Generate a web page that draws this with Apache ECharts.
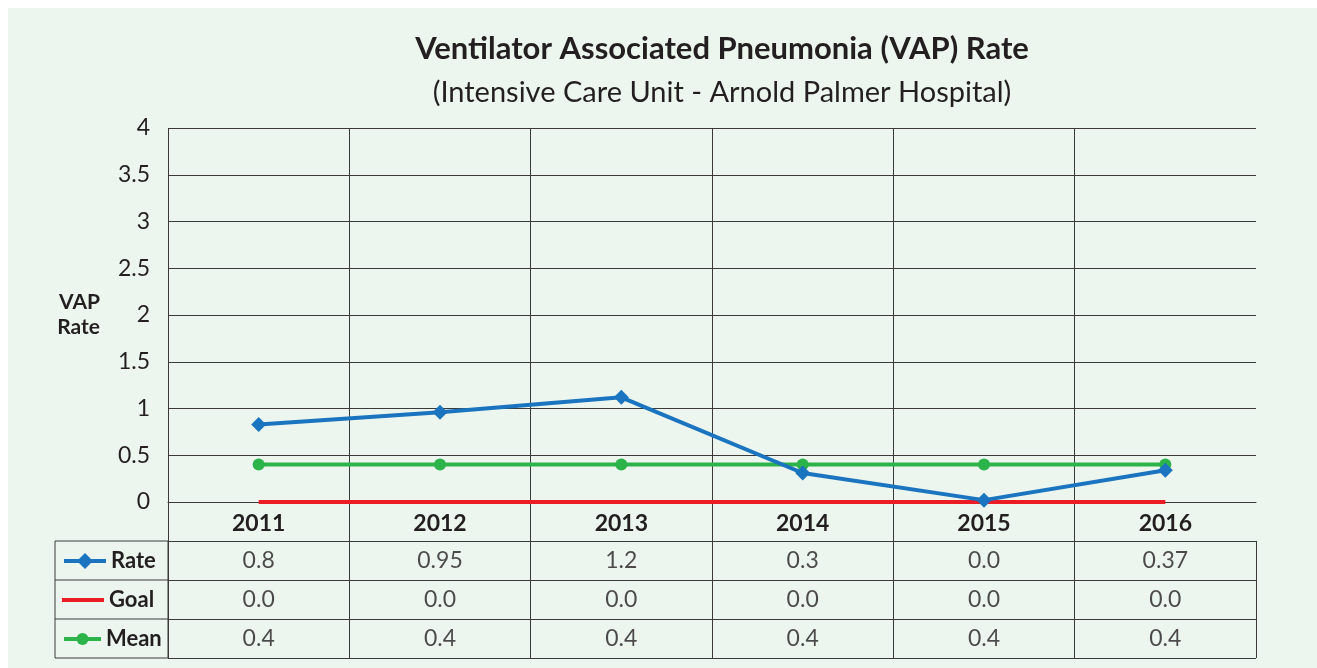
<!DOCTYPE html>
<html lang="en">

<head>
    <meta charset="UTF-8">
    <title>VAP Rate</title>
    <script src="https://cdnjs.cloudflare.com/ajax/libs/echarts/6.0.0/echarts.min.js"></script>
    <style>
        html, body { margin: 0; padding: 0; overflow: hidden; background: #fff; }
        #main { position: absolute; left: 8px; top: 8px; width: 1309px; height: 660px; background: #ecf6ee; }
    </style>
</head>

<body>
    <div id="main"></div>

    <script>
        // data
        var years = ['2011', '2012', '2013', '2014', '2015', '2016'];
        var rate = [0.83, 0.96, 1.12, 0.31, 0.02, 0.34];
        var goal = [0, 0, 0, 0, 0, 0];
        var mean = [0.4, 0.4, 0.4, 0.4, 0.4, 0.4];
        var yTicks = { min: 0, max: 4, step: 0.5 };

        // table text (as printed under the chart)
        var rowNames = ['Rate', 'Goal', 'Mean'];
        var rateText = ['0.8', '0.95', '1.2', '0.3', '0.0', '0.37'];
        var goalText = ['0.0', '0.0', '0.0', '0.0', '0.0', '0.0'];
        var meanText = ['0.4', '0.4', '0.4', '0.4', '0.4', '0.4'];

        var FONT = 'Lato, "Open Sans", sans-serif';
        var INK = '#231f20';
        var GRID_LINE = '#3a3a3a';
        var BLUE = '#1a74bf', RED = '#ec1c24', GREEN = '#2cb34a';

        var tableRows = [rateText, goalText, meanText];
        var cells = [];
        tableRows.forEach(function (row, r) {
            row.forEach(function (txt, c) {
                cells.push([c, r, txt]);
            });
        });

        // vertical lines: hide the last one on the right for plot + header
        var vColors = years.map(function () { return GRID_LINE; }).concat(['rgba(0,0,0,0)']);

        var chart = echarts.init(document.getElementById('main'));

        // one legend per table row, centred on the row (rowCenter in chart px)
        var LEG_TEXT_H = 20;
        function rowLegend(item, rowCenter, h, w) {
            return {
                data: [item],
                orient: 'vertical',
                left: 54,
                top: rowCenter - Math.max(h, LEG_TEXT_H) / 2,
                padding: 0,
                itemWidth: w,
                itemHeight: h,
                itemGap: 0,
                selectedMode: false,
                lineStyle: { width: 4 },
                textStyle: { fontFamily: FONT, fontSize: 22, lineHeight: LEG_TEXT_H, fontWeight: 'bold', color: INK }
            };
        }

        var option = {
            animation: false,
            title: {
                text: 'Ventilator Associated Pneumonia (VAP) Rate',
                subtext: '(Intensive Care Unit - Arnold Palmer Hospital)',
                left: 709,
                textAlign: 'center',
                top: 20,
                itemGap: 14,
                textStyle: { fontFamily: FONT, fontSize: 31, fontWeight: 'bold', color: INK },
                subtextStyle: { fontFamily: FONT, fontSize: 29, color: INK }
            },
            legend: [
                rowLegend('Rate', 552, 20, 42),
                rowLegend({ name: 'Goal', icon: 'rect' }, 591, 4, 42),
                rowLegend('Mean', 630, 15, 37)
            ],
            grid: [
                { left: 160, top: 120, width: 1088, height: 374 },
                { left: 160, top: 494, width: 1088, height: 39 },
                { left: 160, top: 533, width: 1088, height: 117 }
            ],
            xAxis: [
                {
                    gridIndex: 0,
                    type: 'category',
                    data: years,
                    axisLine: { show: true, lineStyle: { color: GRID_LINE, width: 1 } },
                    axisTick: { show: false },
                    axisLabel: { margin: 10, fontFamily: FONT, fontSize: 23, fontWeight: 'bold', color: INK },
                    splitLine: { show: true, interval: 0, lineStyle: { color: vColors, width: 1 } }
                },
                {
                    gridIndex: 1,
                    type: 'category',
                    data: years,
                    axisLine: { show: false },
                    axisTick: { show: false },
                    axisLabel: { show: false },
                    splitLine: { show: true, interval: 0, lineStyle: { color: vColors, width: 1 } }
                },
                {
                    gridIndex: 2,
                    type: 'category',
                    data: years,
                    axisLine: { show: false },
                    axisTick: { show: false },
                    axisLabel: { show: false },
                    splitLine: { show: true, interval: 0, lineStyle: { color: GRID_LINE, width: 1 } }
                }
            ],
            yAxis: [
                {
                    gridIndex: 0,
                    type: 'value',
                    min: yTicks.min,
                    max: yTicks.max,
                    interval: yTicks.step,
                    name: 'VAP\nRate',
                    nameLocation: 'middle',
                    nameRotate: 0,
                    nameGap: 68,
                    nameTextStyle: { fontFamily: FONT, fontSize: 21, fontWeight: 'bold', color: INK, lineHeight: 25, align: 'right' },
                    axisLine: { show: false },
                    axisTick: { show: false },
                    axisLabel: { margin: 18, fontFamily: FONT, fontSize: 23, color: INK },
                    splitLine: { show: true, lineStyle: { color: GRID_LINE, width: 1 } }
                },
                { gridIndex: 1, type: 'value', show: false },
                {
                    gridIndex: 2,
                    type: 'category',
                    data: rowNames,
                    inverse: true,
                    axisLine: { show: false },
                    axisTick: { show: false },
                    axisLabel: { show: false },
                    splitLine: { show: true, interval: 0, lineStyle: { color: GRID_LINE, width: 1 } }
                }
            ],
            graphic: [
                {
                    type: 'rect',
                    shape: { x: 47, y: 533, width: 113, height: 117 },
                    style: { fill: 'none', stroke: GRID_LINE, lineWidth: 1 }
                },
                { type: 'line', shape: { x1: 47, y1: 572, x2: 160, y2: 572 }, style: { stroke: GRID_LINE, lineWidth: 1 } },
                { type: 'line', shape: { x1: 47, y1: 611, x2: 160, y2: 611 }, style: { stroke: GRID_LINE, lineWidth: 1 } }
            ],
            series: [
                {
                    name: 'Goal',
                    type: 'line',
                    data: goal,
                    symbol: 'none',
                    lineStyle: { color: RED, width: 4 },
                    itemStyle: { color: RED },
                    z: 3
                },
                {
                    name: 'Mean',
                    type: 'line',
                    data: mean,
                    symbol: 'circle',
                    symbolSize: 12,
                    lineStyle: { color: GREEN, width: 4 },
                    itemStyle: { color: GREEN },
                    z: 4
                },
                {
                    name: 'Rate',
                    type: 'line',
                    data: rate,
                    symbol: 'diamond',
                    symbolSize: 15,
                    lineStyle: { color: BLUE, width: 4 },
                    itemStyle: { color: BLUE },
                    z: 5
                },
                {
                    name: 'table',
                    type: 'scatter',
                    xAxisIndex: 2,
                    yAxisIndex: 2,
                    data: cells,
                    symbol: 'rect',
                    symbolSize: 1,
                    itemStyle: { color: 'rgba(0,0,0,0)' },
                    silent: true,
                    label: {
                        show: true,
                        position: 'inside',
                        formatter: function (p) { return p.value[2]; },
                        fontFamily: FONT,
                        fontSize: 23,
                        color: INK
                    }
                }
            ]
        };

        chart.setOption(option);
    </script>
</body>

</html>
